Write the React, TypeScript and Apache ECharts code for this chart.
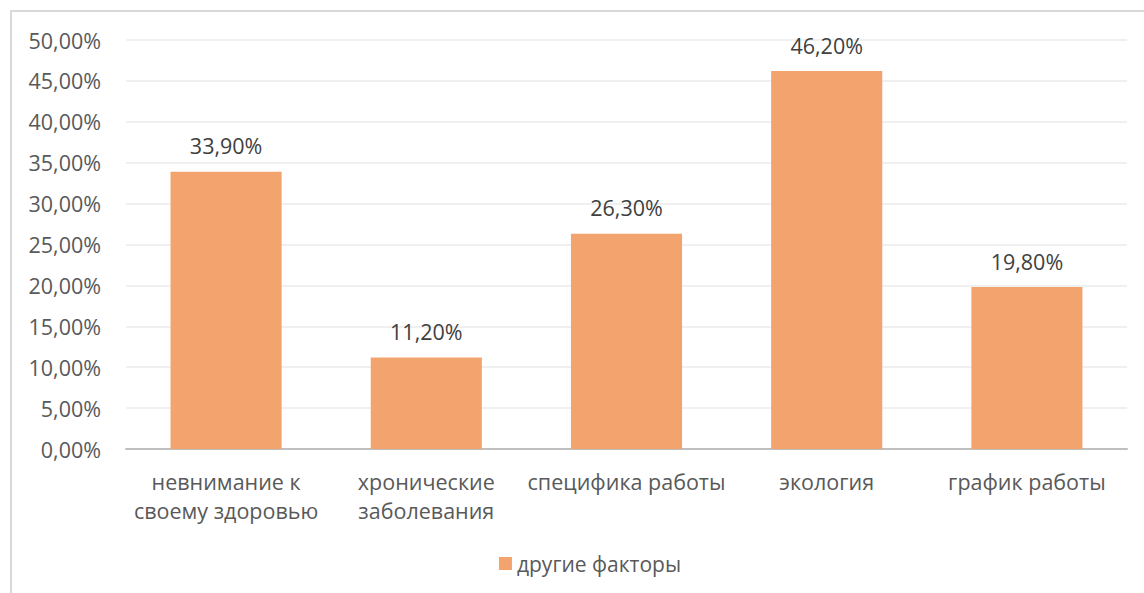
import React, { useEffect, useRef } from "react";
import * as echarts from "echarts";

const categories = [
  "невнимание к\nсвоему здоровью",
  "хронические\nзаболевания",
  "специфика работы",
  "экология",
  "график работы",
];
const values = [33.9, 11.2, 26.3, 46.2, 19.8];
const seriesName = "другие факторы";
const yMin = 0;
const yMax = 50;
const yStep = 5;

const fmt = (v: number) => v.toFixed(2).replace(".", ",") + "%";

export default function App() {
  const ref = useRef<HTMLDivElement>(null);
  useEffect(() => {
    if (!ref.current) return;
    const chart = echarts.init(ref.current, undefined, { renderer: "svg" });
    const font = "'Open Sans', 'Noto Sans', sans-serif";
    const fs = 21.5;
    chart.setOption({
      animation: false,
      textStyle: { fontFamily: font },
      grid: { left: 114, top: 28, width: 1001, height: 409, containLabel: false },
      legend: {
        data: [seriesName],
        top: 536,
        left: "center",
        itemWidth: 13,
        itemHeight: 13,
        itemGap: 6,
        icon: "rect",
        textStyle: { fontSize: 21, color: "#595959", fontFamily: font },
      },
      xAxis: {
        type: "category",
        data: categories,
        axisLine: { lineStyle: { color: "#bfbfbf", width: 2 } },
        axisTick: { show: false },
        axisLabel: {
          fontSize: fs,
          color: "#595959",
          lineHeight: 29,
          margin: 18,
          interval: 0,
          fontFamily: font,
        },
      },
      yAxis: {
        type: "value",
        min: yMin,
        max: yMax,
        interval: yStep,
        axisLine: { show: false },
        axisTick: { show: false },
        splitLine: { lineStyle: { color: "#ebebeb", width: 1.5 } },
        axisLabel: {
          fontSize: fs,
          color: "#595959",
          margin: 25,
          formatter: (v: number) => fmt(v),
          fontFamily: font,
        },
      },
      series: [
        {
          name: seriesName,
          type: "bar",
          data: values,
          barWidth: "55.5%",
          itemStyle: { color: "#F3A46E" },
          label: {
            show: true,
            position: "top",
            distance: 15,
            fontSize: fs,
            color: "#404040",
            formatter: (p: any) => fmt(p.value),
            fontFamily: font,
          },
        },
      ],
    });
    return () => chart.dispose();
  }, []);
  return (
    <div
      style={{
        position: "absolute",
        left: 10,
        top: 10,
        width: 1160,
        height: 620,
        border: "2px solid #d9d9d9",
        boxSizing: "border-box",
        background: "#fff",
      }}
    >
      <div ref={ref} style={{ width: 1156, height: 616 }} />
    </div>
  );
}
